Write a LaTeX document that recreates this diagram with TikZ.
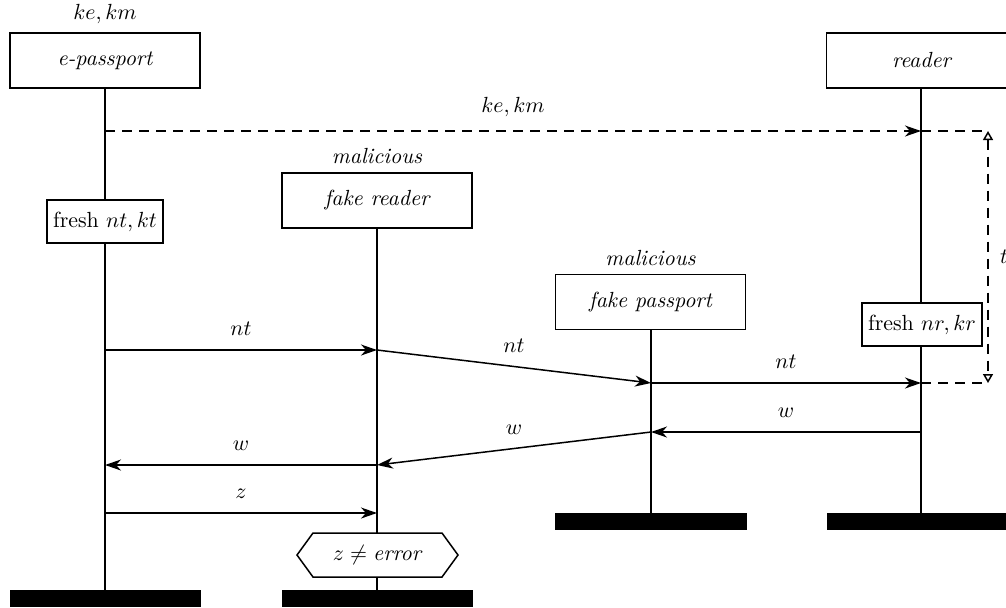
\documentclass[tikz,border=0pt]{standalone}
\usetikzlibrary{arrows.meta}
\AtBeginDocument{\fontsize{10.95}{13.6}\selectfont}
\begin{document}
\begin{tikzpicture}[x=0.5pt,y=-0.5pt,line width=0.75pt,
  inst/.style={draw,fill=white,minimum width=95pt,minimum height=27.5pt,inner sep=0pt,font=\itshape},
  act/.style={draw,fill=white,minimum height=21.5pt,inner xsep=3pt},
  bar/.style={fill=black,draw=black,line width=0.3pt},
  msg/.style={-{Stealth[length=8pt,width=5.5pt,inset=2.5pt]}},
  lbl/.style={above=3pt},
  dsh/.style={dash pattern=on 5pt off 3.5pt}]
\useasboundingbox (0,0) rectangle (1006,607);
\clip (0,0) rectangle (1006,607);
% lifeline anchors
\coordinate (ebot) at (105,590);
\coordinate (frbot) at (377,590);
\coordinate (fpbot) at (651,513);
\coordinate (rbot) at (921,513);
% lifelines
\draw (105,88) -- (ebot);
\draw (377,228) -- (frbot);
\draw (651,329) -- (fpbot);
\draw (921,88) -- (rbot);
% bars
\fill[bar] (10,590) rectangle (200,606);
\fill[bar] (282,590) rectangle (472,606);
\fill[bar] (555,513) rectangle (746,529);
\fill[bar] (827,513) rectangle (1017,529);
% instances
\node[inst] (ep) at (105,60.5) {e-passport};
\node (eplbl) at (105,14) {$ke, km$};
\node[inst] (rd) at (921.5,60.5) {reader};
\node[inst] (fr) at (377,200.5) {fake reader};
\node (frlbl) at (377,156) {\itshape malicious};
\node[inst] (fp) at (650.5,302) {fake passport};
\node (fplbl) at (650.5,258) {\itshape malicious};
% actions
\node[act] (fnt) at (105,221.5) {fresh $nt, kt$};
\node[act] (fnr) at (922,324.5) {fresh $nr, kr$};
% message points
\coordinate (e1) at (105,131); \coordinate (r1) at (921,131);
\coordinate (e2) at (105,350); \coordinate (fr2) at (377,350);
\coordinate (fp3) at (651,383); \coordinate (r3) at (921,383);
\coordinate (r4) at (921,432); \coordinate (fp4) at (651,432);
\coordinate (fr5) at (377,465); \coordinate (e5) at (105,465);
\coordinate (e6) at (105,513); \coordinate (fr6) at (377,513);
\coordinate (t1) at (988,131); \coordinate (t2) at (988,383);
% messages
\draw[msg,dsh] (e1) -- node[lbl] {$ke, km$} (r1);
\draw[msg] (e2) -- node[lbl] {$nt$} (fr2);
\draw[msg] (fr2) -- node[lbl] {$nt$} (fp3);
\draw[msg] (fp3) -- node[lbl] {$nt$} (r3);
\draw[msg] (r4) -- node[lbl] {$w$} (fp4);
\draw[msg] (fp4) -- node[lbl] {$w$} (fr5);
\draw[msg] (fr5) -- node[lbl] {$w$} (e5);
\draw[msg] (e6) -- node[lbl] {$z$} (fr6);
% timing
\draw[dsh] (r1) -- (t1);
\draw[dsh] (r3) -- (t2);
\draw[dsh,{Triangle[open,length=4.5pt,width=5pt]}-{Triangle[open,length=4.5pt,width=5pt]}] (t1) -- node[right=2pt] {$t$} (t2);
% check
\filldraw[fill=white] (297,555) -- (313,533) -- (442,533) -- (458,555) -- (442,577) -- (313,577) -- cycle;
\node (chk) at (377,555) {$z \neq \textit{error}$};
\end{tikzpicture}
\end{document}
